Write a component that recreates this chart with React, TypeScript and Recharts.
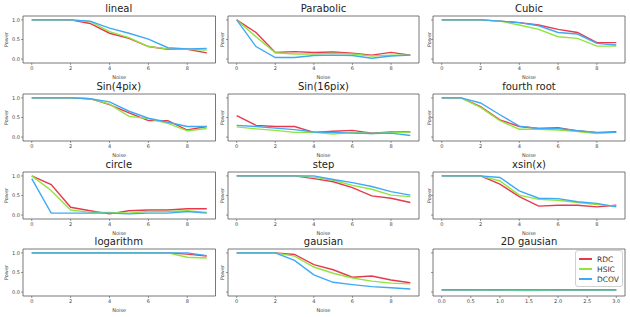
import { LineChart, Line, XAxis, YAxis, ReferenceArea, Legend } from "recharts";

// noise levels on the x axis
const noise = [0, 1, 2, 3, 4, 5, 6, 7, 8, 9];
const noiseTicks = [0, 2, 4, 6, 8];
const gaussScale = [0, 0.5, 1, 1.5, 2, 2.5, 3];
const gaussTicks = [0, 0.5, 1, 1.5, 2, 2.5, 3];
const powerTicks = [0, 0.5, 1];

const linealRdc = [1, 1, 1, 0.91, 0.66, 0.53, 0.32, 0.25, 0.25, 0.16];
const linealHsic = [1, 1, 1, 0.96, 0.7, 0.55, 0.32, 0.26, 0.25, 0.23];
const linealDcov = [1, 1, 1, 0.97, 0.79, 0.66, 0.51, 0.29, 0.26, 0.27];

const parabolicRdc = [1, 0.68, 0.17, 0.19, 0.17, 0.18, 0.15, 0.1, 0.17, 0.1];
const parabolicHsic = [1, 0.57, 0.16, 0.13, 0.13, 0.15, 0.13, 0.08, 0.1, 0.1];
const parabolicDcov = [1, 0.32, 0.04, 0.04, 0.09, 0.1, 0.09, 0.02, 0.08, 0.1];

const cubicRdc = [1, 1, 1, 0.97, 0.93, 0.87, 0.76, 0.68, 0.42, 0.42];
const cubicHsic = [1, 1, 1, 0.97, 0.87, 0.76, 0.57, 0.53, 0.33, 0.33];
const cubicDcov = [1, 1, 1, 0.97, 0.93, 0.85, 0.68, 0.64, 0.4, 0.36];

const sin4Rdc = [1, 1, 1, 0.98, 0.83, 0.62, 0.42, 0.42, 0.18, 0.27];
const sin4Hsic = [1, 1, 1, 0.98, 0.84, 0.53, 0.47, 0.35, 0.16, 0.22];
const sin4Dcov = [1, 1, 1, 0.98, 0.9, 0.66, 0.48, 0.38, 0.27, 0.27];

const sin16Rdc = [0.55, 0.3, 0.27, 0.27, 0.12, 0.15, 0.17, 0.1, 0.13, 0.13];
const sin16Hsic = [0.26, 0.21, 0.17, 0.12, 0.12, 0.08, 0.12, 0.09, 0.12, 0.12];
const sin16Dcov = [0.3, 0.27, 0.23, 0.19, 0.13, 0.12, 0.1, 0.09, 0.1, 0.04];

const rootRdc = [1, 1, 0.78, 0.44, 0.27, 0.22, 0.24, 0.16, 0.11, 0.14];
const rootHsic = [1, 1, 0.76, 0.42, 0.2, 0.2, 0.18, 0.14, 0.09, 0.12];
const rootDcov = [1, 1, 0.87, 0.57, 0.28, 0.22, 0.22, 0.16, 0.12, 0.12];

const circleRdc = [1, 0.78, 0.2, 0.11, 0.03, 0.11, 0.13, 0.13, 0.16, 0.16];
const circleHsic = [1, 0.63, 0.13, 0.07, 0.07, 0.05, 0.09, 0.09, 0.11, 0.07];
const circleDcov = [0.93, 0.05, 0.05, 0.05, 0.05, 0.03, 0.05, 0.05, 0.09, 0.05];

const stepRdc = [1, 1, 1, 1, 0.93, 0.85, 0.7, 0.49, 0.43, 0.32];
const stepHsic = [1, 1, 1, 1, 0.97, 0.89, 0.76, 0.66, 0.51, 0.47];
const stepDcov = [1, 1, 1, 1, 1, 0.91, 0.83, 0.73, 0.6, 0.51];

const xsinRdc = [1, 1, 1, 0.79, 0.47, 0.23, 0.25, 0.25, 0.21, 0.25];
const xsinHsic = [1, 1, 1, 0.87, 0.51, 0.4, 0.38, 0.32, 0.27, 0.23];
const xsinDcov = [1, 1, 1, 0.96, 0.62, 0.43, 0.42, 0.34, 0.3, 0.21];

const logRdc = [1, 1, 1, 1, 1, 1, 1, 1, 0.97, 0.92];
const logHsic = [1, 1, 1, 1, 1, 1, 1, 1, 0.89, 0.87];
const logDcov = [1, 1, 1, 1, 1, 1, 1, 1, 1, 0.93];

const gaussRdc = [1, 1, 1, 0.96, 0.7, 0.57, 0.38, 0.41, 0.31, 0.24];
const gaussHsic = [1, 1, 1, 0.92, 0.64, 0.48, 0.36, 0.28, 0.23, 0.21];
const gaussDcov = [1, 1, 1, 0.81, 0.44, 0.25, 0.19, 0.14, 0.11, 0.08];

const gauss2dRdc = [0.06, 0.06, 0.05, 0.05, 0.05, 0.05, 0.06];
const gauss2dHsic = [0.06, 0.05, 0.05, 0.04, 0.05, 0.05, 0.05];
const gauss2dDcov = [0.06, 0.06, 0.06, 0.06, 0.06, 0.06, 0.06];

const series = [
  { key: "RDC", color: "#e8384f" },
  { key: "HSIC", color: "#8ee53f" },
  { key: "DCOV", color: "#3fa9f5" },
];

const toRows = (xs: number[], rdc: number[], hsic: number[], dcov: number[]) =>
  xs.map((x, i) => ({ x, RDC: rdc[i], HSIC: hsic[i], DCOV: dcov[i] }));

const FONT = "DejaVu Sans, sans-serif";
const PLOT_H = 47;
const PAD_L = 22;
const PAD_T = 16;
const PAD_B = 18;
const PAD_R = 4;
const colLeft = [22.5, 228, 433];
const colWidth = [192.5, 191, 192];
const rowTop = [16, 94, 172, 249];
const powerOffset = [5.5, 16, 18];

const panels = [
  { title: "lineal", data: toRows(noise, linealRdc, linealHsic, linealDcov) },
  { title: "Parabolic", data: toRows(noise, parabolicRdc, parabolicHsic, parabolicDcov) },
  { title: "Cubic", data: toRows(noise, cubicRdc, cubicHsic, cubicDcov) },
  { title: "Sin(4pix)", data: toRows(noise, sin4Rdc, sin4Hsic, sin4Dcov) },
  { title: "Sin(16pix)", data: toRows(noise, sin16Rdc, sin16Hsic, sin16Dcov) },
  { title: "fourth root", data: toRows(noise, rootRdc, rootHsic, rootDcov) },
  { title: "circle", data: toRows(noise, circleRdc, circleHsic, circleDcov) },
  { title: "step", data: toRows(noise, stepRdc, stepHsic, stepDcov) },
  { title: "xsin(x)", data: toRows(noise, xsinRdc, xsinHsic, xsinDcov) },
  { title: "logarithm", data: toRows(noise, logRdc, logHsic, logDcov) },
  { title: "gausian", data: toRows(noise, gaussRdc, gaussHsic, gaussDcov) },
  { title: "2D gausian", data: toRows(gaussScale, gauss2dRdc, gauss2dHsic, gauss2dDcov), gauss2d: true },
];

const LegendBox = () => (
  <div
    style={{
      border: "1px solid #d0d0d0",
      borderRadius: 3,
      background: "rgba(255,255,255,0.85)",
      padding: "3px 3px 2px 3px",
      fontFamily: FONT,
      fontSize: 7.5,
      color: "#333",
    }}
  >
    {series.map((s) => (
      <div key={s.key} style={{ display: "flex", alignItems: "center", height: 10 }}>
        <span style={{ width: 13, height: 2, background: s.color, marginRight: 5 }} />
        <span>{s.key}</span>
      </div>
    ))}
  </div>
);

const Panel = ({ title, data, col, row, gauss2d }: any) => {
  const width = colWidth[col];
  const xDomain = gauss2d ? [-0.15, 3.15] : [-0.45, 9.45];
  const axisColor = "#555";
  return (
    <div style={{ position: "absolute", left: colLeft[col] - PAD_L, top: rowTop[row] - PAD_T }}>
      <div
        style={{
          position: "absolute",
          left: PAD_L,
          top: PAD_T - 13,
          width,
          height: 12,
          lineHeight: "12px",
          textAlign: "center",
          fontFamily: FONT,
          fontSize: 10,
          color: "#222",
        }}
      >
        {title}
      </div>
      <LineChart
        width={width + PAD_L + PAD_R}
        height={PLOT_H + PAD_T + PAD_B}
        data={data}
        margin={{ top: PAD_T, right: PAD_R, left: 0, bottom: 0 }}
      >
        <XAxis
          dataKey="x"
          type="number"
          domain={xDomain}
          allowDataOverflow
          ticks={gauss2d ? gaussTicks : noiseTicks}
          tickFormatter={(v: number) => (gauss2d ? v.toFixed(1) : String(v))}
          height={PAD_B}
          tickSize={2}
          tickMargin={1}
          axisLine={false}
          tickLine={{ stroke: axisColor, strokeWidth: 0.6 }}
          tick={{ fontSize: 5, fill: "#444", fontFamily: FONT }}
          label={
            gauss2d
              ? undefined
              : { value: "Noise", position: "insideBottom", offset: 2.5, fontSize: 5, fill: "#444", fontFamily: FONT }
          }
        />
        <YAxis
          type="number"
          domain={[-0.1, 1.1]}
          allowDataOverflow
          ticks={powerTicks}
          width={PAD_L}
          tickSize={2}
          tickMargin={1}
          axisLine={false}
          tickLine={{ stroke: axisColor, strokeWidth: 0.6 }}
          tickFormatter={(v: number) => (col === 0 ? v.toFixed(1) : "")}
          tick={{ fontSize: 5, fill: "#444", fontFamily: FONT }}
          label={
            gauss2d
              ? undefined
              : {
                  value: "Power",
                  angle: -90,
                  position: "insideLeft",
                  offset: powerOffset[col],
                  fontSize: 5,
                  fill: "#444",
                  fontFamily: FONT,
                  style: { textAnchor: "middle" },
                }
          }
        />
        {series.map((s) => (
          <Line
            key={s.key}
            type="linear"
            dataKey={s.key}
            stroke={s.color}
            strokeWidth={1.4}
            dot={false}
            isAnimationActive={false}
          />
        ))}
        <ReferenceArea
          x1={xDomain[0]}
          x2={xDomain[1]}
          y1={-0.1}
          y2={1.1}
          fill="none"
          stroke={axisColor}
          strokeWidth={0.8}
        />
        {gauss2d && (
          <Legend
            layout="vertical"
            align="center"
            verticalAlign="middle"
            wrapperStyle={{ left: PAD_L + 142, top: PAD_T + 1, width: "auto", height: "auto" }}
            content={() => <LegendBox />}
          />
        )}
      </LineChart>
    </div>
  );
}

export default function App() {
  return (
    <div style={{ position: "absolute", left: 0, top: 0, width: 630, height: 317, background: "#fff" }}>
      {panels.map((p, i) => (
        <Panel key={p.title} {...p} col={i % 3} row={Math.floor(i / 3)} />
      ))}
    </div>
  );
}
